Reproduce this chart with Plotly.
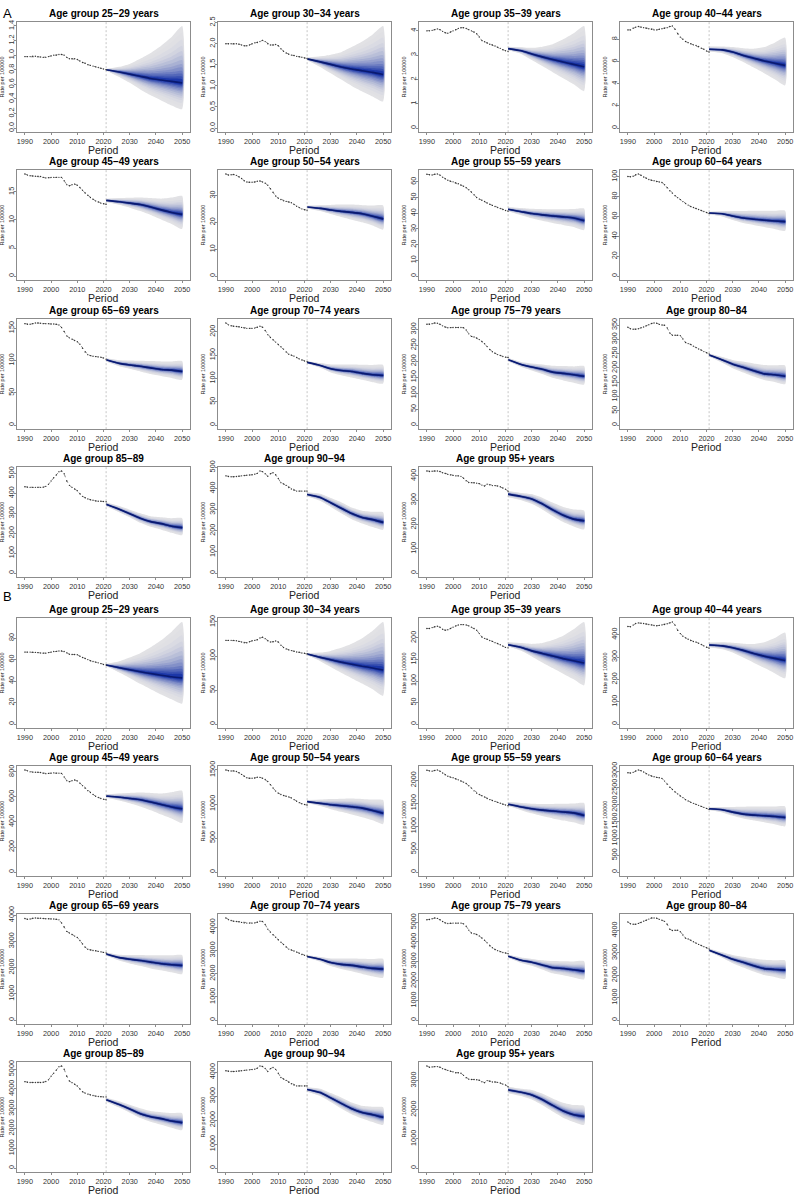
import plotly.graph_objects as go

# ---------------- data ----------------
OBS_YEARS = list(range(1990, 2022))
PROJ_YEARS = [2021, 2026, 2030, 2034, 2038, 2042, 2046, 2050]
X_TICKS = [1990, 2000, 2010, 2020, 2030, 2040, 2050]
PROJ_START = 2021

AGE_LABELS = [
    "Age group 25\u221229 years", "Age group 30\u221234 years", "Age group 35\u221239 years",
    "Age group 40\u221244 years", "Age group 45\u221249 years", "Age group 50\u221254 years",
    "Age group 55\u221259 years", "Age group 60\u221264 years", "Age group 65\u221269 years",
    "Age group 70\u221274 years", "Age group 75\u221279 years", "Age group 80\u221284",
    "Age group 85\u221289", "Age group 90\u221294", "Age group 95+ years",
]
A_Y_STEPS = [0.2, 0.5, 1, 2, 5, 10, 10, 20, 50, 50, 50, 50, 100, 100, 100]
B_Y_STEPS = [20, 50, 50, 100, 200, 500, 500, 500, 1000, 1000, 1000, 1000, 1000, 1000, 1000]

# ---- Section A ----
A01_OBS = [0.98, 0.98, 0.98, 0.985, 0.985, 0.98, 0.975, 0.97, 0.97, 0.98, 0.99, 1.0, 1.0, 1.01, 1.01, 1.0,
           0.97, 0.95, 0.95, 0.95, 0.94, 0.92, 0.9, 0.89, 0.87, 0.86, 0.85, 0.84, 0.83, 0.82, 0.81, 0.80]
A01_MED = [0.80, 0.77, 0.74, 0.71, 0.68, 0.66, 0.64, 0.62]
A01_HI = [0.81, 0.84, 0.88, 0.95, 1.03, 1.13, 1.25, 1.40]
A01_LO = [0.79, 0.70, 0.62, 0.53, 0.45, 0.38, 0.31, 0.26]

A02_OBS = [2.0, 2.0, 2.0, 2.0, 2.0, 1.99, 1.97, 1.95, 1.95, 1.97, 2.0, 2.02, 2.03, 2.05, 2.08, 2.05,
           2.0, 1.97, 1.97, 1.98, 1.95, 1.88, 1.82, 1.78, 1.75, 1.73, 1.72, 1.70, 1.69, 1.68, 1.66, 1.65]
A02_MED = [1.64, 1.57, 1.51, 1.45, 1.40, 1.36, 1.32, 1.27]
A02_HI = [1.67, 1.70, 1.74, 1.80, 1.92, 2.05, 2.22, 2.42]
A02_LO = [1.61, 1.45, 1.30, 1.15, 1.0, 0.87, 0.75, 0.63]

A03_OBS = [4.0, 4.0, 4.02, 4.05, 4.08, 4.05, 3.98, 3.92, 3.90, 3.95, 4.0, 4.05, 4.1, 4.13, 4.13, 4.1,
           4.05, 4.0, 3.95, 3.88, 3.75, 3.6, 3.55, 3.5, 3.45, 3.42, 3.38, 3.33, 3.28, 3.22, 3.18, 3.15]
A03_MED = [3.27, 3.18, 3.05, 2.93, 2.82, 2.72, 2.62, 2.52]
A03_HI = [3.35, 3.33, 3.30, 3.35, 3.45, 3.65, 3.9, 4.2]
A03_LO = [3.2, 3.05, 2.8, 2.55, 2.3, 2.05, 1.8, 1.52]

A04_OBS = [8.85, 8.85, 9.0, 9.1, 9.15, 9.1, 9.05, 9.0, 8.95, 8.9, 8.85, 8.85, 8.9, 8.95, 9.0, 9.05,
           9.15, 9.2, 8.9, 8.5, 8.2, 8.0, 7.8, 7.7, 7.6, 7.5, 7.45, 7.35, 7.2, 7.1, 6.95, 6.85]
A04_MED = [7.1, 7.05, 6.85, 6.55, 6.3, 6.05, 5.85, 5.65]
A04_HI = [7.35, 7.35, 7.3, 7.2, 7.15, 7.3, 7.7, 8.15]
A04_LO = [6.9, 6.75, 6.4, 5.95, 5.45, 4.95, 4.4, 3.85]

A05_OBS = [18.2, 18.0, 17.9, 17.85, 17.8, 17.8, 17.75, 17.6, 17.5, 17.55, 17.6, 17.6, 17.6, 17.6, 17.6, 17.0,
           16.3, 16.1, 16.3, 16.4, 16.2, 15.8, 15.3, 14.8, 14.4, 14.0, 13.7, 13.4, 13.2, 13.0, 12.9, 12.8]
A05_MED = [13.5, 13.25, 13.0, 12.75, 12.3, 11.8, 11.35, 11.0]
A05_HI = [13.8, 13.9, 13.95, 14.0, 13.9, 13.8, 14.0, 14.3]
A05_LO = [13.2, 12.7, 12.2, 11.6, 10.9, 10.1, 9.3, 8.4]

A06_OBS = [38.0, 37.6, 37.7, 37.8, 37.5, 37.0, 36.3, 35.5, 35.0, 34.9, 34.9, 35.0, 35.3, 35.4, 35.0, 34.6,
           33.8, 32.5, 31.2, 29.8, 29.0, 28.5, 28.0, 27.8, 27.6, 27.3, 26.7, 26.0, 25.5, 25.0, 24.7, 24.5]
A06_MED = [25.7, 25.2, 24.6, 24.1, 23.7, 23.2, 22.3, 21.3]
A06_HI = [26.2, 26.4, 26.5, 26.6, 26.6, 26.4, 26.3, 26.3]
A06_LO = [25.2, 24.2, 23.1, 22.0, 21.0, 20.0, 18.8, 17.3]

A07_OBS = [64.8, 64.5, 64.4, 64.8, 65.0, 64.3, 63.0, 62.0, 61.0, 60.4, 60.0, 59.4, 58.8, 58.0, 57.2, 56.3,
           55.0, 53.5, 51.8, 50.0, 49.0, 48.3, 47.5, 46.5, 45.7, 45.0, 44.3, 43.6, 43.0, 42.4, 41.8, 41.3]
A07_MED = [42.5, 41.0, 39.8, 39.0, 38.3, 37.7, 37.0, 35.3]
A07_HI = [43.8, 43.3, 42.8, 42.6, 42.5, 42.5, 42.7, 43.0]
A07_LO = [41.3, 38.8, 36.8, 35.2, 33.8, 32.5, 31.2, 29.3]

A08_OBS = [100.3, 100.0, 100.5, 102.0, 102.8, 101.5, 99.8, 98.5, 97.3, 96.5, 96.0, 95.3, 94.8, 94.3, 92.0, 89.0,
           86.0, 83.5, 81.0, 79.0, 77.0, 75.0, 73.0, 71.5, 70.0, 69.0, 68.0, 67.0, 66.0, 65.0, 64.0, 63.0]
A08_MED = [63.5, 62.8, 60.5, 58.5, 57.3, 56.3, 55.5, 54.8]
A08_HI = [64.8, 65.3, 65.5, 65.6, 65.8, 65.8, 65.8, 65.8]
A08_LO = [62.2, 60.0, 56.5, 53.5, 51.5, 49.5, 47.5, 45.5]

A09_OBS = [157, 156, 156, 157, 158, 158, 157.5, 157, 157, 157, 156.5, 156.5, 156, 155, 151, 145,
           138, 135, 133, 131, 129, 125, 119, 113, 109, 107.5, 106.5, 106, 105.5, 105, 104, 102]
A09_MED = [101, 95.5, 93, 91, 88.5, 86, 85, 83]
A09_HI = [103.5, 100.5, 100, 99.5, 99, 98.5, 98.5, 99]
A09_LO = [98.5, 91, 87, 83, 79, 76, 73, 70]

A10_OBS = [219, 215, 213, 212, 211.5, 211, 209.5, 208, 207.5, 207.5, 207.5, 208, 210, 212, 210, 203,
           194, 188, 183, 178, 173, 168, 163, 157, 152, 150, 148, 145, 142, 139.5, 137.5, 136]
A10_MED = [134.5, 128, 121, 117, 115, 111, 108, 106.5]
A10_HI = [137, 133, 130, 130, 130, 129.5, 129, 129]
A10_LO = [132, 123, 113, 107, 102, 97, 92, 89]

A11_OBS = [316, 316, 318, 320, 319, 316, 311, 307, 305, 305.5, 306, 306, 306, 306, 305, 298,
           286, 278, 276, 273, 268, 262, 255, 246, 237, 230, 225, 221, 218, 215, 213, 212]
A11_MED = [205, 190, 182, 175, 166, 162, 158, 153]
A11_HI = [210, 198, 193, 190, 186, 185, 184, 185]
A11_LO = [200, 182, 171, 160, 148, 140, 133, 127]

A12_OBS = [342, 337, 335, 335, 337, 340, 343, 347, 351, 355, 357, 356, 352, 350, 349, 340,
           322, 314, 314, 314, 313, 301, 289, 285, 282, 276, 271, 266, 262, 257, 253, 249]
A12_MED = [245, 228, 213, 202, 190, 179, 176, 171]
A12_HI = [250, 238, 228, 222, 215, 210, 209, 208]
A12_LO = [240, 218, 199, 184, 170, 158, 151, 143]

A13_OBS = [433, 431, 430, 430, 430, 430, 430, 431, 435, 445, 462, 478, 492, 508, 512, 498,
           462, 440, 430, 422, 413, 398, 385, 378, 372, 368, 365, 362, 360, 360, 359, 358]
A13_MED = [345, 320, 298, 275, 258, 248, 235, 228]
A13_HI = [355, 336, 318, 300, 285, 280, 275, 275]
A13_LO = [335, 305, 280, 252, 232, 218, 202, 190]

A14_OBS = [460, 457, 456, 456, 457, 458, 460, 462, 463, 464, 465, 468, 472, 483, 480, 470,
           458, 470, 475, 465, 448, 428, 422, 415, 405, 398, 392, 388, 388, 388, 388, 388]
A14_MED = [372, 358, 333, 307, 282, 263, 253, 240]
A14_HI = [382, 375, 355, 335, 310, 295, 290, 288]
A14_LO = [362, 342, 313, 283, 255, 235, 218, 205]

A15_OBS = [420, 418, 419, 420, 420, 418, 413, 410, 406, 404, 402, 400, 400, 398, 390, 380,
           373, 372, 372, 370, 368, 362, 358, 366, 363, 360, 360, 358, 355, 350, 345, 337]
A15_MED = [325, 315, 305, 285, 260, 238, 222, 215]
A15_HI = [338, 330, 325, 310, 290, 272, 262, 258]
A15_LO = [312, 300, 285, 262, 235, 210, 192, 180]

# ---- Section B ----
B01_OBS = [67, 67, 67, 66.8, 66.7, 66.5, 66.2, 66, 66, 66.5, 67, 67.5, 67.7, 68, 68, 67.5,
           66.3, 65, 64.7, 64.8, 64.5, 63.2, 62, 61, 60, 59, 58.3, 57.7, 57, 56.3, 55.5, 55]
B01_MED = [55, 52.5, 50.5, 48.7, 47, 45.5, 44, 43]
B01_HI = [56, 58.5, 62, 66, 71.5, 78, 86, 95]
B01_LO = [54, 48, 43, 37.5, 32.5, 27.5, 23, 19]

B02_OBS = [123, 123, 123, 123, 122.5, 121.5, 120.5, 119.5, 119.5, 121, 122.5, 123, 124, 126.5, 127.5, 125.5,
           122.5, 120.5, 121, 122, 120.5, 116, 112.5, 110.5, 109, 108, 107, 106, 105.5, 104.5, 104, 103]
B02_MED = [103, 98, 94.5, 91, 88, 85, 82.5, 79.5]
B02_HI = [104.5, 105, 107.5, 112, 118, 126, 137, 150]
B02_LO = [101.5, 92.5, 84, 75.5, 67.5, 59.5, 51, 41.5]

B03_OBS = [222, 222, 224, 226, 227, 225, 220, 218, 219, 222, 225, 228, 230, 231, 231, 230,
           228, 225, 222, 218, 210, 202, 199, 197, 194, 192, 189, 187, 184, 181, 178, 177]
B03_MED = [184, 178, 170, 164, 158, 152, 147, 142]
B03_HI = [190, 188, 186, 188, 195, 205, 220, 237]
B03_LO = [180, 170, 157, 143, 130, 117, 104, 90]

B04_OBS = [437, 436, 443, 450, 453, 452, 450, 448, 446, 444, 441, 440, 442, 444, 446, 449,
           453, 457, 443, 420, 405, 393, 386, 380, 374, 370, 367, 362, 356, 350, 344, 340]
B04_MED = [354, 350, 342, 330, 316, 304, 294, 285]
B04_HI = [365, 366, 364, 360, 358, 366, 385, 410]
B04_LO = [344, 335, 320, 298, 275, 252, 228, 205]

B05_OBS = [815, 808, 800, 798, 797, 797, 795, 790, 786, 788, 790, 792, 790, 790, 788, 760,
           730, 722, 730, 735, 728, 710, 690, 670, 650, 635, 620, 605, 595, 588, 582, 578]
B05_MED = [607, 598, 588, 578, 560, 540, 520, 505]
B05_HI = [622, 628, 632, 635, 632, 628, 638, 650]
B05_LO = [594, 572, 550, 524, 494, 460, 428, 392]

B06_OBS = [1500, 1488, 1485, 1487, 1478, 1460, 1435, 1408, 1385, 1378, 1378, 1383, 1393, 1392, 1378, 1360,
           1330, 1285, 1235, 1190, 1160, 1140, 1125, 1115, 1105, 1090, 1065, 1040, 1020, 1003, 992, 985]
B06_MED = [1035, 1010, 990, 975, 960, 940, 905, 865]
B06_HI = [1058, 1065, 1072, 1078, 1082, 1075, 1065, 1058]
B06_LO = [1015, 970, 925, 885, 845, 805, 760, 705]

B07_OBS = [2220, 2205, 2200, 2215, 2225, 2200, 2160, 2120, 2090, 2070, 2055, 2035, 2010, 1985, 1960, 1930,
           1880, 1830, 1770, 1720, 1690, 1665, 1635, 1605, 1580, 1560, 1540, 1520, 1500, 1480, 1462, 1445]
B07_MED = [1480, 1420, 1380, 1350, 1330, 1310, 1290, 1235]
B07_HI = [1525, 1505, 1490, 1485, 1485, 1488, 1495, 1505]
B07_LO = [1440, 1350, 1280, 1220, 1170, 1125, 1085, 1030]

B08_OBS = [2950, 2940, 2960, 3000, 3030, 3010, 2970, 2920, 2880, 2850, 2830, 2810, 2800, 2780, 2700, 2610,
           2520, 2450, 2380, 2320, 2260, 2210, 2150, 2110, 2070, 2040, 2010, 1980, 1950, 1920, 1890, 1860]
B08_MED = [1880, 1850, 1780, 1720, 1690, 1670, 1650, 1620]
B08_HI = [1920, 1930, 1935, 1940, 1945, 1945, 1945, 1945]
B08_LO = [1840, 1770, 1670, 1590, 1530, 1480, 1420, 1360]

B09_OBS = [3870, 3840, 3850, 3880, 3890, 3880, 3880, 3870, 3860, 3860, 3855, 3850, 3840, 3820, 3700, 3550,
           3380, 3320, 3260, 3200, 3150, 3030, 2900, 2780, 2700, 2670, 2650, 2640, 2620, 2600, 2580, 2560]
B09_MED = [2520, 2380, 2320, 2270, 2210, 2150, 2110, 2080]
B09_HI = [2580, 2490, 2480, 2480, 2470, 2470, 2470, 2480]
B09_LO = [2460, 2270, 2160, 2070, 1970, 1900, 1820, 1750]

B10_OBS = [4400, 4330, 4290, 4260, 4250, 4240, 4210, 4190, 4180, 4180, 4180, 4190, 4220, 4260, 4250, 4120,
           3920, 3790, 3680, 3570, 3460, 3360, 3260, 3150, 3060, 3020, 2980, 2930, 2880, 2830, 2790, 2760]
B10_MED = [2740, 2620, 2480, 2400, 2360, 2290, 2230, 2200]
B10_HI = [2790, 2720, 2660, 2650, 2650, 2640, 2630, 2640]
B10_LO = [2690, 2520, 2330, 2200, 2100, 1990, 1890, 1820]

B11_OBS = [5130, 5140, 5180, 5220, 5200, 5130, 5040, 4970, 4940, 4950, 4960, 4960, 4960, 4960, 4920, 4800,
           4600, 4450, 4420, 4380, 4300, 4200, 4080, 3950, 3800, 3700, 3610, 3550, 3500, 3460, 3430, 3400]
B11_MED = [3270, 3060, 2960, 2820, 2680, 2640, 2570, 2500]
B11_HI = [3350, 3200, 3130, 3060, 3020, 3010, 3000, 3010]
B11_LO = [3190, 2920, 2780, 2590, 2390, 2290, 2180, 2080]

B12_OBS = [4380, 4300, 4280, 4280, 4320, 4360, 4420, 4460, 4510, 4560, 4560, 4550, 4500, 4460, 4410, 4280,
           4060, 4000, 4010, 4010, 3950, 3800, 3660, 3620, 3570, 3500, 3440, 3380, 3330, 3280, 3230, 3180]
B12_MED = [3120, 2900, 2720, 2580, 2430, 2300, 2260, 2230]
B12_HI = [3190, 3030, 2910, 2830, 2750, 2690, 2670, 2670]
B12_LO = [3050, 2780, 2540, 2350, 2170, 2010, 1930, 1840]

B13_OBS = [4370, 4340, 4330, 4330, 4330, 4330, 4330, 4340, 4380, 4460, 4640, 4800, 4950, 5120, 5160, 5000,
           4640, 4400, 4320, 4240, 4150, 4000, 3860, 3790, 3740, 3700, 3670, 3640, 3620, 3610, 3600, 3600]
B13_MED = [3460, 3210, 2990, 2750, 2600, 2500, 2380, 2300]
B13_HI = [3560, 3380, 3200, 3020, 2880, 2820, 2780, 2770]
B13_LO = [3360, 3060, 2800, 2530, 2340, 2190, 2040, 1920]

B14_OBS = [4060, 4040, 4030, 4030, 4040, 4050, 4060, 4080, 4090, 4100, 4110, 4130, 4170, 4260, 4240, 4160,
           4030, 4150, 4200, 4120, 3960, 3780, 3720, 3660, 3580, 3520, 3470, 3430, 3430, 3430, 3430, 3430]
B14_MED = [3280, 3150, 2930, 2700, 2480, 2320, 2230, 2120]
B14_HI = [3370, 3310, 3130, 2950, 2740, 2600, 2560, 2540]
B14_LO = [3190, 3010, 2760, 2490, 2250, 2070, 1920, 1800]

B15_OBS = [3500, 3460, 3470, 3480, 3480, 3460, 3410, 3380, 3350, 3320, 3300, 3270, 3270, 3250, 3180, 3100,
           3050, 3040, 3040, 3030, 3010, 2960, 2930, 3000, 2980, 2950, 2950, 2940, 2920, 2880, 2850, 2790]
B15_MED = [2680, 2600, 2510, 2350, 2150, 1960, 1830, 1770]
B15_HI = [2790, 2720, 2680, 2560, 2390, 2240, 2160, 2130]
B15_LO = [2570, 2470, 2350, 2160, 1940, 1730, 1580, 1480]

SECTION_A = [
    (A01_OBS, A01_MED, A01_HI, A01_LO), (A02_OBS, A02_MED, A02_HI, A02_LO), (A03_OBS, A03_MED, A03_HI, A03_LO),
    (A04_OBS, A04_MED, A04_HI, A04_LO), (A05_OBS, A05_MED, A05_HI, A05_LO), (A06_OBS, A06_MED, A06_HI, A06_LO),
    (A07_OBS, A07_MED, A07_HI, A07_LO), (A08_OBS, A08_MED, A08_HI, A08_LO), (A09_OBS, A09_MED, A09_HI, A09_LO),
    (A10_OBS, A10_MED, A10_HI, A10_LO), (A11_OBS, A11_MED, A11_HI, A11_LO), (A12_OBS, A12_MED, A12_HI, A12_LO),
    (A13_OBS, A13_MED, A13_HI, A13_LO), (A14_OBS, A14_MED, A14_HI, A14_LO), (A15_OBS, A15_MED, A15_HI, A15_LO),
]
SECTION_B = [
    (B01_OBS, B01_MED, B01_HI, B01_LO), (B02_OBS, B02_MED, B02_HI, B02_LO), (B03_OBS, B03_MED, B03_HI, B03_LO),
    (B04_OBS, B04_MED, B04_HI, B04_LO), (B05_OBS, B05_MED, B05_HI, B05_LO), (B06_OBS, B06_MED, B06_HI, B06_LO),
    (B07_OBS, B07_MED, B07_HI, B07_LO), (B08_OBS, B08_MED, B08_HI, B08_LO), (B09_OBS, B09_MED, B09_HI, B09_LO),
    (B10_OBS, B10_MED, B10_HI, B10_LO), (B11_OBS, B11_MED, B11_HI, B11_LO), (B12_OBS, B12_MED, B12_HI, B12_LO),
    (B13_OBS, B13_MED, B13_HI, B13_LO), (B14_OBS, B14_MED, B14_HI, B14_LO), (B15_OBS, B15_MED, B15_HI, B15_LO),
]

# fan chart quantile spreads (relative to outer interval), outer -> inner
FAN_LEVELS = [1.0, 0.88, 0.76, 0.65, 0.56, 0.48, 0.40, 0.33, 0.27, 0.21, 0.16, 0.11, 0.065]

# ---------------- layout / style ----------------
W, H = 796, 1200
FONT = "Liberation Sans, Arial, sans-serif"
COL_LEFT = [17, 218, 419, 620]
PANEL_W = 173
PANEL_H = 111
A_TOPS = [14, 163, 313, 462]
B_TOPS = [614, 763, 912, 1061]
GRAY_OUT = (226, 226, 229)
BLUE_IN = (28, 55, 168)
MED_COLOR = "#0a1a70"


def ramp(i, n):
    t = (i / (n - 1)) ** 1.8
    c = [round(GRAY_OUT[k] + (BLUE_IN[k] - GRAY_OUT[k]) * t) for k in range(3)]
    return "rgb(%d,%d,%d)" % tuple(c)


fig = go.Figure()
annotations = []
shapes = []
layout_axes = {}

panels = []
for section, tops, steps in [(SECTION_A, A_TOPS, A_Y_STEPS), (SECTION_B, B_TOPS, B_Y_STEPS)]:
    for p_idx, data in enumerate(section):
        r, c = divmod(p_idx, 4)
        panels.append((data, tops[r], COL_LEFT[c], steps[p_idx], AGE_LABELS[p_idx]))

for n, (data, top, left, step, label) in enumerate(panels, start=1):
    obs, med, hi, lo = data
    xa = "x" if n == 1 else "x%d" % n
    ya = "y" if n == 1 else "y%d" % n
    xd = [left / W, (left + PANEL_W) / W]
    yd = [1 - (top + PANEL_H) / H, 1 - top / H]
    ymax = max(max(obs), max(hi))

    # fan bands
    for k, f in enumerate(FAN_LEVELS):
        up = [m + f * (h - m) for m, h in zip(med, hi)]
        dn = [m - f * (m - l) for m, l in zip(med, lo)]
        fig.add_trace(go.Scatter(
            x=PROJ_YEARS + PROJ_YEARS[::-1], y=up + dn[::-1], fill="toself",
            fillcolor=ramp(k, len(FAN_LEVELS)), line=dict(width=0, shape="spline", smoothing=0.5),
            mode="lines", hoverinfo="skip", showlegend=False, xaxis=xa, yaxis=ya))
    fig.add_trace(go.Scatter(x=PROJ_YEARS, y=med, mode="lines",
                             line=dict(color=MED_COLOR, width=1.6, shape="spline", smoothing=0.5),
                             showlegend=False, xaxis=xa, yaxis=ya))
    fig.add_trace(go.Scatter(x=OBS_YEARS, y=obs, mode="lines+markers",
                             line=dict(color="#555555", width=0.7, dash="dot"),
                             marker=dict(size=1.4, color="#333333"),
                             showlegend=False, xaxis=xa, yaxis=ya))

    ax_common = dict(showline=True, linecolor="#8c8c8c", linewidth=1, mirror=True,
                     ticks="outside", tickcolor="#8c8c8c", ticklen=2, tickwidth=0.8,
                     showgrid=False, zeroline=False, tickfont=dict(size=7.3, color="#333333", family=FONT))
    layout_axes["xaxis" if n == 1 else "xaxis%d" % n] = dict(
        domain=xd, anchor=ya, range=[1987, 2053], tickvals=X_TICKS, **ax_common)
    layout_axes["yaxis" if n == 1 else "yaxis%d" % n] = dict(
        domain=yd, anchor=xa, range=[-0.04 * ymax, 1.04 * ymax], tick0=0, dtick=step,
        tickangle=-90, ticklabelstandoff=-3, tickformat=".1f" if step < 1 else "d", **ax_common)

    shapes.append(dict(type="line", xref=xa, yref="%s domain" % ya, x0=PROJ_START, x1=PROJ_START,
                       y0=0, y1=1, line=dict(color="#a0a0a0", width=0.6, dash="2px,2px")))

    cx = (left + PANEL_W / 2) / W
    annotations.append(dict(text="<b>%s</b>" % label, x=cx, y=1 - (top - 8) / H, xref="paper", yref="paper",
                            showarrow=False, font=dict(size=10, family=FONT, color="#000000"),
                            xanchor="center", yanchor="middle"))
    annotations.append(dict(text="Period", x=cx, y=1 - (top + PANEL_H + 18) / H, xref="paper", yref="paper",
                            showarrow=False, font=dict(size=10.5, family=FONT, color="#222222"),
                            xanchor="center", yanchor="middle"))
    annotations.append(dict(text="Rate per 100000", x=(left - 14.5) / W, y=1 - (top + PANEL_H / 2) / H,
                            xref="paper", yref="paper", showarrow=False, textangle=-90,
                            font=dict(size=5.5, family=FONT, color="#222222"),
                            xanchor="center", yanchor="middle"))

annotations.append(dict(text="A", x=1 / W, y=1 - 6 / H, xref="paper", yref="paper", showarrow=False,
                        font=dict(size=13, family=FONT, color="#000000"), xanchor="left", yanchor="middle"))
annotations.append(dict(text="B", x=1 / W, y=1 - 592 / H, xref="paper", yref="paper", showarrow=False,
                        font=dict(size=13, family=FONT, color="#000000"), xanchor="left", yanchor="middle"))

fig.update_layout(width=W, height=H, margin=dict(l=0, r=0, t=0, b=0), paper_bgcolor="white",
                  plot_bgcolor="white", showlegend=False, annotations=annotations, shapes=shapes,
                  font=dict(family=FONT), **layout_axes)

fig.write_html("out.html")
